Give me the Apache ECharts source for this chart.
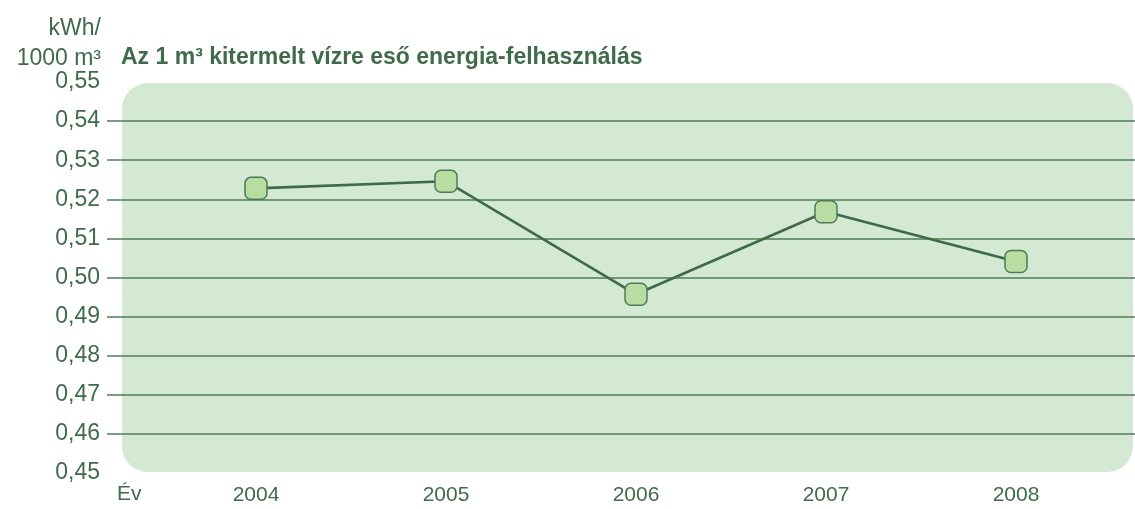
<!DOCTYPE html>
<html>
<head>
<meta charset="utf-8">
<script src="https://cdn.jsdelivr.net/npm/echarts@6/dist/echarts.min.js"></script>
<style>
html,body{margin:0;padding:0;background:#fff;}
#chart{width:1135px;height:509px;}
</style>
</head>
<body>
<div id="chart"></div>
<script>
var categories = ['2004', '2005', '2006', '2007', '2008'];
var values = [0.5228, 0.5246, 0.4957, 0.5168, 0.5041];
var yMin = 0.45, yMax = 0.55, yStep = 0.01;
var titleText = 'Az 1 m³ kitermelt vízre eső energia-felhasználás';
var unitText = 'kWh/\n1000 m³';
var xName = 'Év';

var textColor = '#3f6b4b';
var lineColor = '#3e6a48';
var gridColor = '#4f7d59';

var chart = echarts.init(document.getElementById('chart'));
var nLines = Math.round((yMax - yMin) / yStep) + 1;
var splitColors = [];
for (var i = 0; i < nLines; i++) {
  splitColors.push(i === 0 || i === nLines - 1 ? 'rgba(0,0,0,0)' : gridColor);
}
var roundSq = 'path://M6,0H16A6,6,0,0,1,22,6V16A6,6,0,0,1,16,22H6A6,6,0,0,1,0,16V6A6,6,0,0,1,6,0Z';
var fontFam = '"Liberation Sans", Arial, sans-serif';

chart.setOption({
  animation: false,
  title: {
    text: titleText,
    left: 121, top: 46, padding: 0,
    textStyle: {color: textColor, fontSize: 23, fontWeight: 'bold', fontFamily: fontFam}
  },
  graphic: [
    {type: 'rect', z: -10, shape: {x: 122, y: 83, width: 1011, height: 389, r: 26},
     style: {fill: '#d3e9d3'}},
    {type: 'text', x: 101, y: 14, z: 10,
     style: {text: unitText, fill: textColor, font: '23px ' + fontFam, textAlign: 'right', lineHeight: 29.5}},
    {type: 'text', x: 117, y: 484, z: 10,
     style: {text: xName, fill: textColor, font: '21px ' + fontFam}}
  ],
  grid: [
    {left: 107, right: 0, top: 82, bottom: 36},
    {left: 161, right: 24, top: 82, bottom: 36}
  ],
  xAxis: [
    {gridIndex: 0, type: 'category', data: categories, show: false},
    {gridIndex: 1, type: 'category', data: categories, boundaryGap: true,
     axisLine: {show: false}, axisTick: {show: false},
     axisLabel: {color: textColor, fontSize: 21, fontFamily: fontFam, margin: 12}}
  ],
  yAxis: [
    {gridIndex: 0, type: 'value', min: yMin, max: yMax, interval: yStep,
     axisLine: {show: false}, axisTick: {show: false},
     axisLabel: {color: textColor, fontSize: 23, fontFamily: fontFam, margin: 7,
       formatter: function (v) { return v.toFixed(2).replace('.', ','); }},
     splitLine: {show: true, lineStyle: {color: splitColors, width: 1.5}}},
    {gridIndex: 1, type: 'value', min: yMin, max: yMax, interval: yStep, show: false,
     splitLine: {show: false}}
  ],
  series: [{
    type: 'line',
    xAxisIndex: 1, yAxisIndex: 1,
    data: values,
    symbol: roundSq,
    symbolSize: 22,
    lineStyle: {color: lineColor, width: 2.6},
    itemStyle: {color: '#b9dca3', borderColor: '#4c7b55', borderWidth: 1.5},
    z: 5
  }]
});
</script>
</body>
</html>
